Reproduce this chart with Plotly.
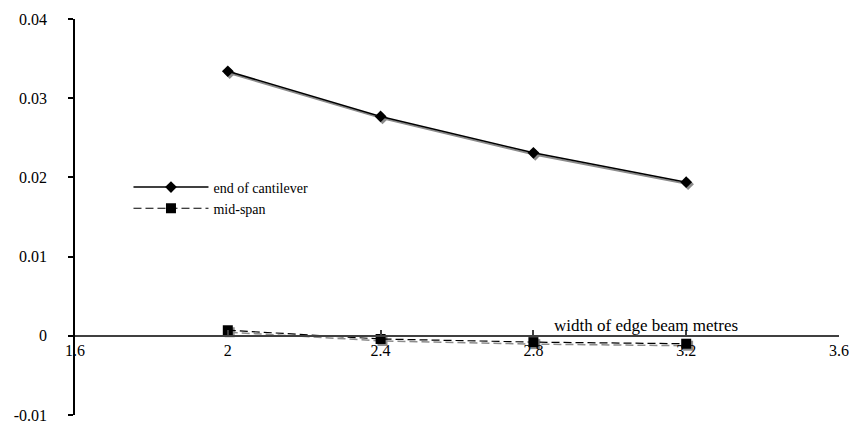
import plotly.graph_objects as go

widths = [2.0, 2.4, 2.8, 3.2]
end_of_cantilever = [0.0334, 0.0277, 0.0231, 0.0194]
mid_span = [0.0007, -0.0004, -0.0008, -0.0010]
x_ticks = [1.6, 2.0, 2.4, 2.8, 3.2, 3.6]
x_tick_labels = ["1.6", "2", "2.4", "2.8", "3.2", "3.6"]
y_ticks = [-0.01, 0, 0.01, 0.02, 0.03, 0.04]
y_tick_labels = ["-0.01", "0", "0.01", "0.02", "0.03", "0.04"]

FONT = "Times New Roman"
dx, dy = 0.005, -0.00025  # shadow offset

fig = go.Figure()
# shadows
fig.add_trace(go.Scatter(x=[v + dx for v in widths], y=[v + dy for v in end_of_cantilever],
                         mode="lines+markers", line=dict(color="#8c8c8c", width=2),
                         marker=dict(symbol="diamond", size=9, color="#8c8c8c"),
                         showlegend=False, hoverinfo="skip"))
fig.add_trace(go.Scatter(x=[v + dx for v in widths], y=[v + dy for v in mid_span],
                         mode="lines+markers", line=dict(color="#8c8c8c", width=1.5, dash="8px,4px"),
                         marker=dict(symbol="square", size=10, color="#8c8c8c"),
                         showlegend=False, hoverinfo="skip"))
fig.add_trace(go.Scatter(x=widths, y=end_of_cantilever, name="end of cantilever",
                         mode="lines+markers", line=dict(color="black", width=1.5),
                         marker=dict(symbol="diamond", size=9, color="black")))
fig.add_trace(go.Scatter(x=widths, y=mid_span, name="mid-span",
                         mode="lines+markers", line=dict(color="black", width=1.2, dash="8px,4px"),
                         marker=dict(symbol="square", size=10, color="black")))

fig.update_layout(
    width=849, height=425,
    margin=dict(l=75, r=10, t=19, b=10, autoexpand=False),
    plot_bgcolor="white", paper_bgcolor="white",
    font=dict(family=FONT, size=16, color="black"),
    showlegend=True,
    legend=dict(x=0.07, y=0.615, xanchor="left", yanchor="top", bgcolor="rgba(0,0,0,0)",
                itemwidth=75, font=dict(family=FONT, size=14), tracegroupgap=0),
    xaxis=dict(range=[1.6, 3.6], tickvals=x_ticks, ticktext=x_tick_labels,
               anchor="free", position=0.2, showline=True, linecolor="#404040", linewidth=1.5,
               ticks="inside", ticklen=5, tickcolor="#404040", tickwidth=1.5,
               showgrid=False, zeroline=False, tickfont=dict(family=FONT, size=16),
               ticklabeloverflow="allow", automargin=False),
    yaxis=dict(range=[-0.01, 0.04], tickvals=y_ticks, ticktext=y_tick_labels,
               showline=True, linecolor="black", linewidth=1.5,
               ticks="outside", ticklen=5, tickwidth=1.5, tickcolor="black",
               showgrid=False, zeroline=False, ticklabelstandoff=18,
               tickfont=dict(family=FONT, size=16), ticklabeloverflow="allow",
               automargin=False),
    annotations=[dict(text="width of edge beam metres", x=3.095, y=0, xref="x", yref="y",
                      yanchor="bottom", xanchor="center", showarrow=False, yshift=-1,
                      font=dict(family=FONT, size=17))],
)

fig.write_html("out.html", config={"displayModeBar": False},
               post_script="document.body.style.margin='0';")
